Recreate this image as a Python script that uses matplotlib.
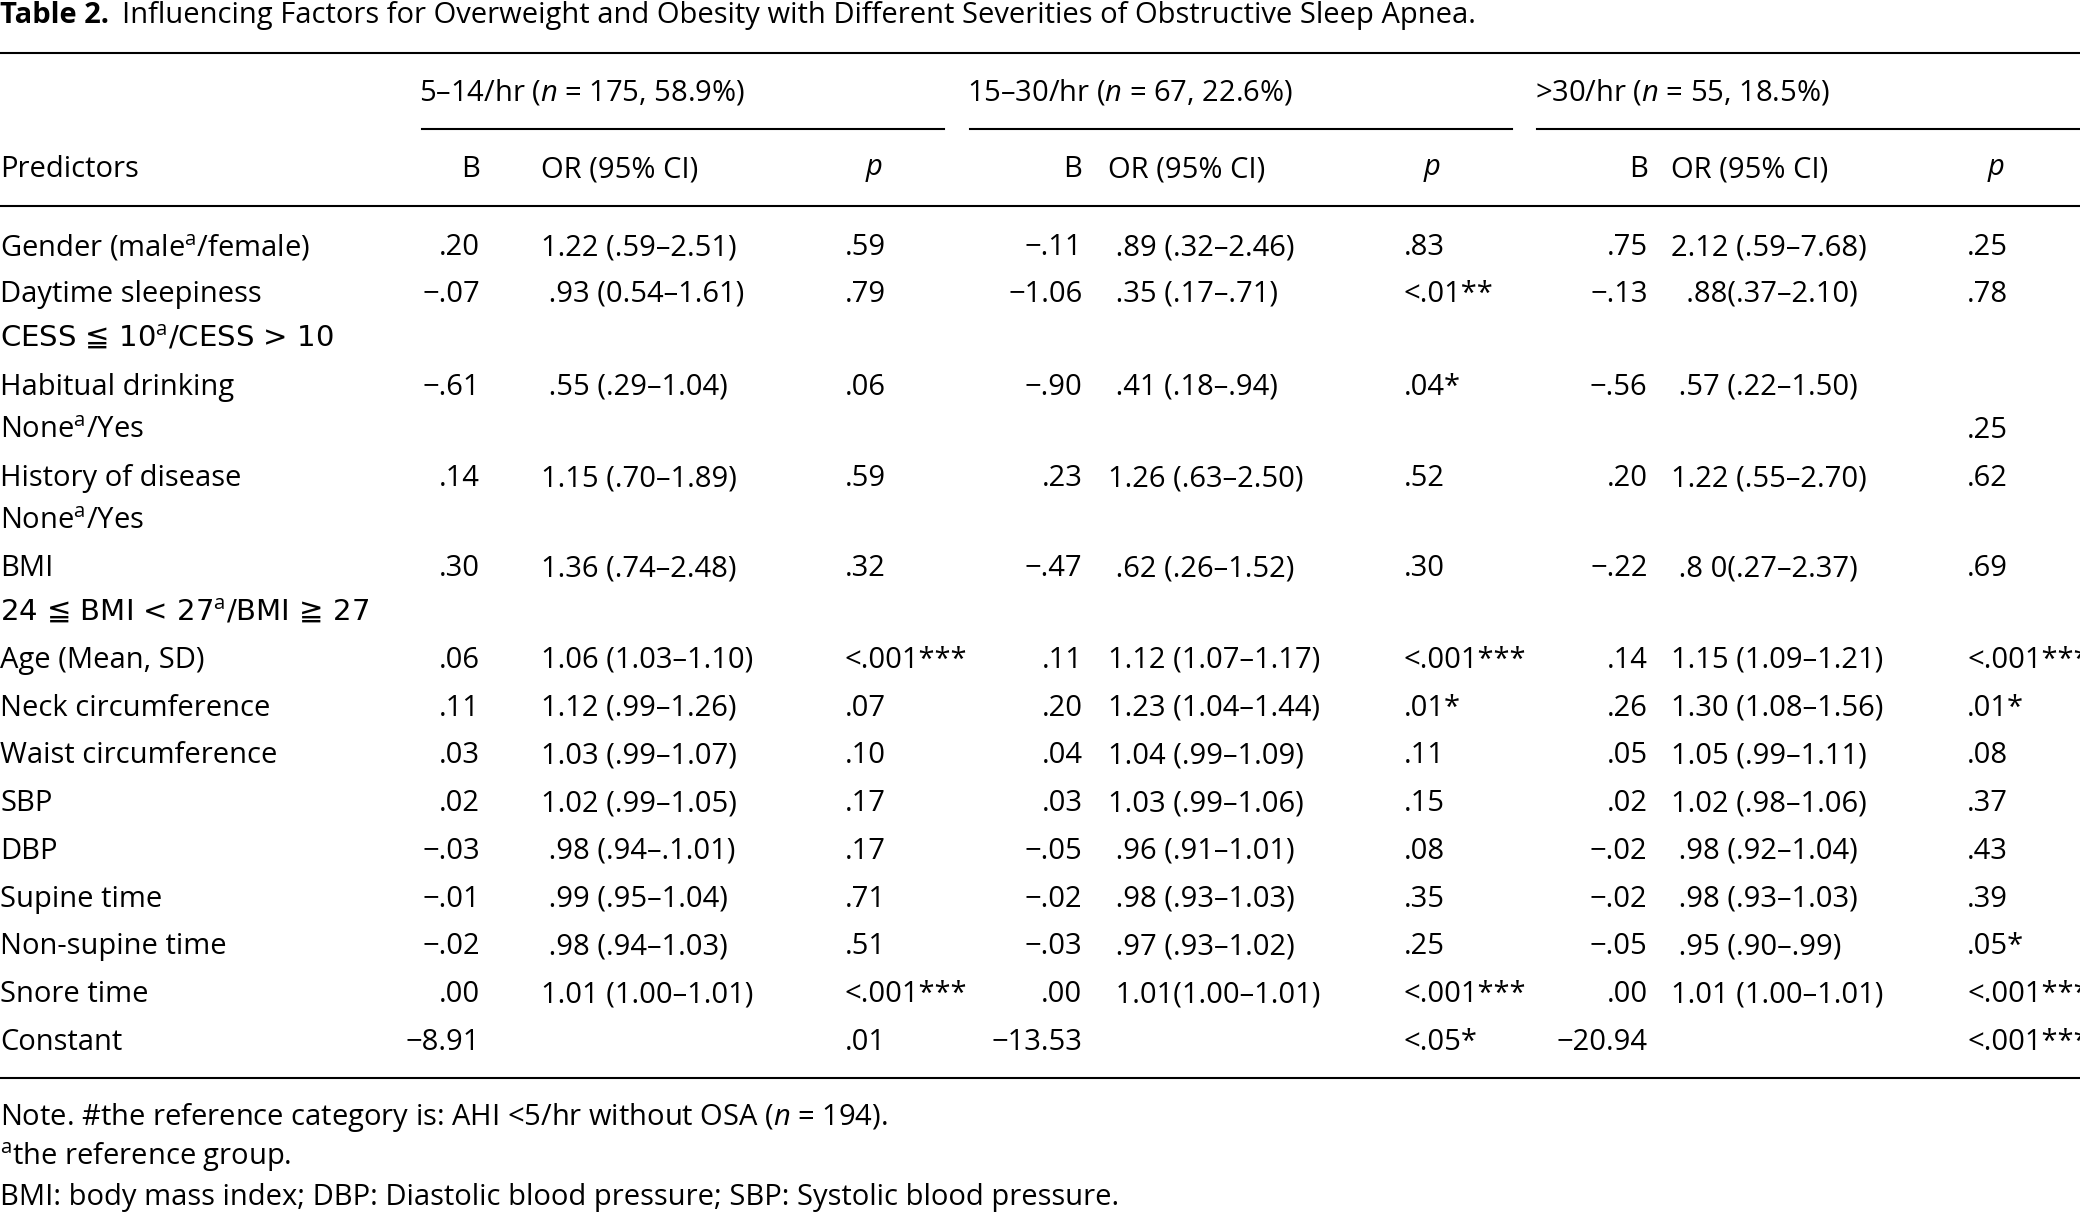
import matplotlib.pyplot as plt

plt.rcParams['font.family'] = ['Open Sans', 'DejaVu Sans']
plt.rcParams['mathtext.fontset'] = 'custom'
plt.rcParams['mathtext.rm'] = 'Open Sans'
plt.rcParams['mathtext.it'] = 'Open Sans:italic'

A = r'$^{\mathrm{a}}$'
labels = ['Gender (male' + A + '/female)', 'Daytime sleepiness', 'CESS ≦ 10' + A + '/CESS > 10',
          'Habitual drinking', 'None' + A + '/Yes', 'History of disease', 'None' + A + '/Yes',
          'BMI', '24 ≦ BMI < 27' + A + '/BMI ≧ 27', 'Age (Mean, SD)', 'Neck circumference',
          'Waist circumference', 'SBP', 'DBP', 'Supine time', 'Non-supine time', 'Snore time', 'Constant']

b1 = ['.20', '−.07', '', '−.61', '', '.14', '', '.30', '', '.06', '.11', '.03', '.02', '−.03', '−.01', '−.02', '.00', '−8.91']
or1 = ['1.22 (.59–2.51)', ' .93 (0.54–1.61)', '', ' .55 (.29–1.04)', '', '1.15 (.70–1.89)', '', '1.36 (.74–2.48)', '',
       '1.06 (1.03–1.10)', '1.12 (.99–1.26)', '1.03 (.99–1.07)', '1.02 (.99–1.05)', ' .98 (.94–.1.01)', ' .99 (.95–1.04)',
       ' .98 (.94–1.03)', '1.01 (1.00–1.01)', '']
p1 = ['.59', '.79', '', '.06', '', '.59', '', '.32', '', '<.001***', '.07', '.10', '.17', '.17', '.71', '.51', '<.001***', '.01']

b2 = ['−.11', '−1.06', '', '−.90', '', '.23', '', '−.47', '', '.11', '.20', '.04', '.03', '−.05', '−.02', '−.03', '.00', '−13.53']
or2 = [' .89 (.32–2.46)', ' .35 (.17–.71)', '', ' .41 (.18–.94)', '', '1.26 (.63–2.50)', '', ' .62 (.26–1.52)', '',
       '1.12 (1.07–1.17)', '1.23 (1.04–1.44)', '1.04 (.99–1.09)', '1.03 (.99–1.06)', ' .96 (.91–1.01)', ' .98 (.93–1.03)',
       ' .97 (.93–1.02)', ' 1.01(1.00–1.01)', '']
p2 = ['.83', '<.01**', '', '.04*', '', '.52', '', '.30', '', '<.001***', '.01*', '.11', '.15', '.08', '.35', '.25', '<.001***', '<.05*']

b3 = ['.75', '−.13', '', '−.56', '', '.20', '', '−.22', '', '.14', '.26', '.05', '.02', '−.02', '−.02', '−.05', '.00', '−20.94']
or3 = ['2.12 (.59–7.68)', '  .88(.37–2.10)', '', ' .57 (.22–1.50)', '', '1.22 (.55–2.70)', '', ' .8 0(.27–2.37)', '',
       '1.15 (1.09–1.21)', '1.30 (1.08–1.56)', '1.05 (.99–1.11)', '1.02 (.98–1.06)', ' .98 (.92–1.04)', ' .98 (.93–1.03)',
       ' .95 (.90–.99)', '1.01 (1.00–1.01)', '']
p3 = ['.25', '.78', '', '', '.25', '.62', '', '.69', '', '<.001***', '.01*', '.08', '.37', '.43', '.39', '.05*', '<.001***', '<.001***']

groups = [r'5–14/hr ($\it{n}$ = 175, 58.9%)', r'15–30/hr ($\it{n}$ = 67, 22.6%)', r'>30/hr ($\it{n}$ = 55, 18.5%)']
row_y = [187, 222, 255, 292, 325, 361, 393, 429, 462, 498, 534, 570, 606, 642, 678, 714, 750, 786]

W, H = 1568, 917
fig = plt.figure(figsize=(20.8, 12.16), dpi=100)
ax = fig.add_axes([0, 0, 1, 1])
ax.set_xlim(0, W)
ax.set_ylim(H, 0)
ax.axis('off')
fs = 21


def txt(x, y, s, ha='left', **kw):
    ax.text(x, y, s, ha=ha, va='center', fontsize=fs, **kw)


txt(0, 12, 'Table 2.', fontweight='bold')
txt(92, 12, 'Influencing Factors for Overweight and Obesity with Different Severities of Obstructive Sleep Apnea.')
ax.plot([0, W], [40, 40], color='black', lw=1.5)

cols = [(318, 712, 362, 408, 637), (731, 1140, 816, 835, 1058), (1159, 1568, 1242, 1260, 1483)]
data = [(b1, or1, p1), (b2, or2, p2), (b3, or3, p3)]
txt(0, 128, 'Predictors')
for (x0, x1, xb, xo, xp), g, (bs, ors, ps) in zip(cols, groups, data):
    txt(x0 - 2, 70, g)
    ax.plot([x0, x1], [97, 97], color='black', lw=1.5)
    txt(xb, 128, 'B', ha='right')
    txt(xo, 128, 'OR (95% CI)')
    txt(xp + 15, 128, r'$\it{p}$')
    for y, b, o, p in zip(row_y, bs, ors, ps):
        txt(xb, y, b, ha='right')
        txt(xo, y, o)
        txt(xp, y, p)

for y, lab in zip(row_y, labels):
    # Open Sans has no ≦/≧, so those lines go through DejaVu Sans
    if '≦' in lab:
        txt(0, y, lab, family='DejaVu Sans')
    else:
        txt(0, y, lab)

ax.plot([0, W], [155, 155], color='black', lw=1.5)
ax.plot([0, W], [813, 813], color='black', lw=1.5)

txt(0, 843, r'Note. #the reference category is: AHI <5/hr without OSA ($\it{n}$ = 194).')
txt(0, 873, A + 'the reference group.')
txt(0, 903, 'BMI: body mass index; DBP: Diastolic blood pressure; SBP: Systolic blood pressure.')

fig.savefig('out.png', dpi=100)
